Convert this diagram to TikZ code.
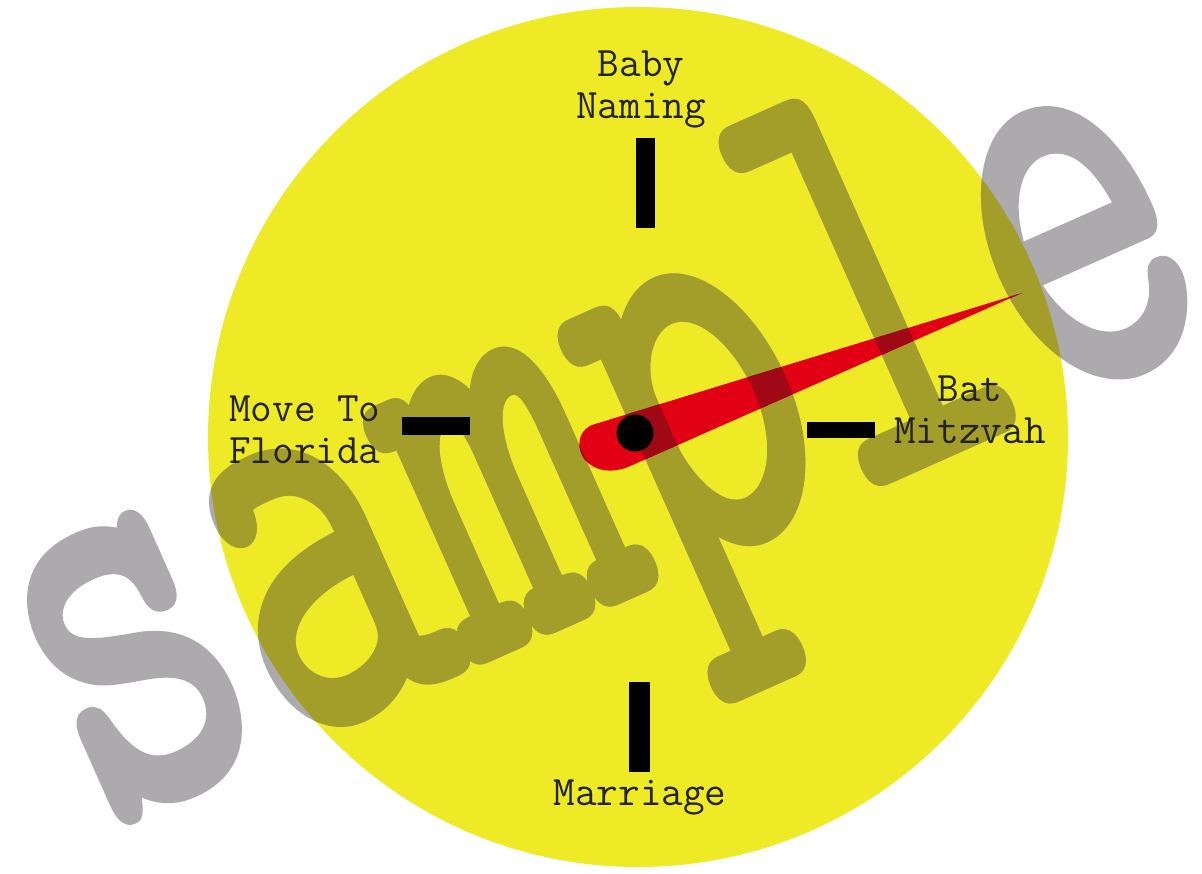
\documentclass[tikz,border=0pt]{standalone}
\usepackage{fontspec}
\newfontfamily\lblfont{Latin Modern Mono}
\newfontfamily\wmfont{Latin Modern Mono}[FakeBold=2.2]
\definecolor{clockyellow}{RGB}{239,234,38}
\definecolor{handred}{RGB}{226,0,20}
\definecolor{handdark}{RGB}{160,8,22}
\definecolor{labelink}{RGB}{35,35,25}
\definecolor{wmgray}{RGB}{172,170,172}
\definecolor{wmolive}{RGB}{163,158,42}
\newcommand\handshape{(592,425) -- (1022,293) -- (628,467)
  .. controls (612,473) and (596,472) .. (585,460)
  .. controls (577,450) and (576,432) .. cycle}
\newcommand\clockcircle{(638,437) circle (430)}
\tikzset{
  ticktok/.style={fill=black, draw=none},
  lbl/.style={font=\lblfont\fontsize{42}{42}\selectfont, text=labelink, inner sep=0pt, align=center},
  wmark/.style={rotate=24, xscale=0.68, yscale=1.05, inner sep=0pt,
    font=\wmfont\fontsize{590}{590}\selectfont},
}
\begin{document}
\begin{tikzpicture}[x=1pt, y=-1pt]
\useasboundingbox (0,0) rectangle (1202,874);
\fill[white] (0,0) rectangle (1202,874);
% clock face
\fill[clockyellow] \clockcircle;
% watermark, outside and inside the face
\node[wmark, color=wmgray] (wm) at (612,468) {sample};
\begin{scope}
  \clip \clockcircle;
  \node[wmark, color=wmolive] (wmin) at (612,468) {sample};
\end{scope}
% ticks
\fill[ticktok] (636,138) rectangle (655,228);
\fill[ticktok] (629,682) rectangle (650,772);
\fill[ticktok] (402,417) rectangle (470,435);
\fill[ticktok] (807,422) rectangle (875,438);
% labels
\node[lbl] (baby) at (641,89) {Baby\\Naming};
\node[lbl, anchor=west, align=left] (move) at (229,430) {Move To\\Florida};
\node[lbl] (bat) at (970,410) {Bat\\Mitzvah};
\node[lbl] (marr) at (640,797) {Marriage};
% hand
\fill[handred] \handshape;
\begin{scope}
  \clip \handshape;
  \node[wmark, color=handdark] (wmhand) at (612,468) {sample};
\end{scope}
\node[circle, fill=black, minimum size=37pt, inner sep=0pt] (hub) at (635,433) {};
\end{tikzpicture}
\end{document}
